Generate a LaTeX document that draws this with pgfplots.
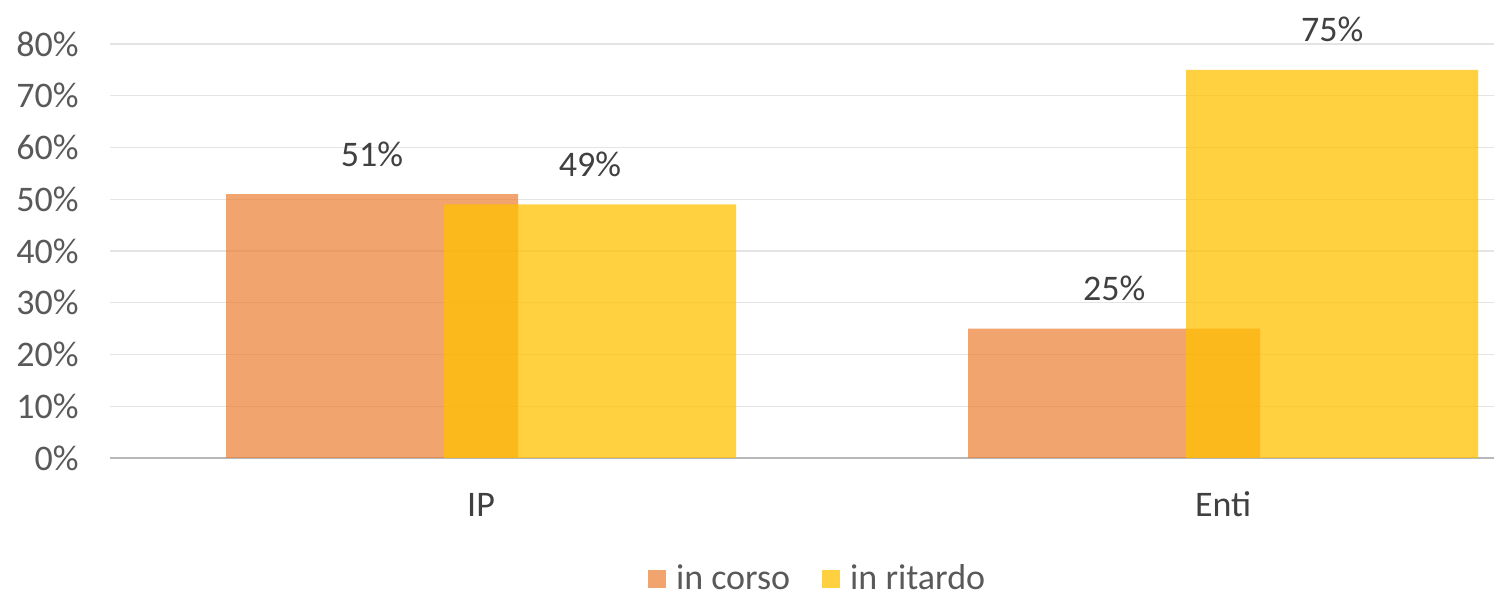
\documentclass[border=0pt]{standalone}
\usepackage{pgfplots}
\pgfplotsset{compat=1.18}
\usepackage{fontspec}
\setmainfont{Carlito}
\definecolor{corso}{HTML}{ED7D31}
\definecolor{ritardo}{HTML}{FFC000}
\definecolor{gridgrey}{HTML}{E4E4E4}
\definecolor{labgrey}{HTML}{595959}
\definecolor{txtgrey}{HTML}{404040}
\begin{document}
\begin{tikzpicture}
\path[use as bounding box] (-55pt,-70pt) rectangle (692pt,229pt);
\begin{axis}[
    at={(0,0)}, anchor=south west,
    scale only axis,
    width=692pt, height=207pt,
    ybar,
    bar width=0.3935,
    xmin=-0.5, xmax=1.365,
    ymin=0, ymax=80,
    enlargelimits=false,
    clip=false,
    axis line style={draw=none},
    major tick length=0pt,
    xtick={0,1},
    xticklabels={IP,Enti},
    ytick={0,10,...,80},
    ymajorgrids,
    grid style={gridgrey, line width=0.6pt},
    extra y ticks={0},
    extra y tick labels={},
    extra y tick style={grid style={color=black!28, line width=0.7pt}},
    /pgf/number format/assume math mode=true,
    yticklabel={\pgfmathprintnumber{\tick}\%},
    tick label style={font=\fontsize{18}{21}\selectfont, text=labgrey},
    yticklabel style={anchor=east, inner sep=0pt, xshift=-15.5pt},
    xticklabel style={anchor=base, inner sep=0pt, yshift=-29.5pt, text=txtgrey},
    point meta=y,
    nodes near coords={\pgfmathprintnumber{\pgfplotspointmeta}\%},
    every node near coord/.append style={anchor=base, inner sep=0pt, yshift=14pt,
        font=\fontsize{18}{21}\selectfont, text=txtgrey},
    legend style={at={(0.512,-0.292)}, anchor=center, draw=none, fill=none,
        legend columns=2, font=\fontsize{18}{21}\selectfont, text=labgrey,
        inner sep=0pt,
        /tikz/every odd column/.append style={column sep=3pt},
        /tikz/every even column/.append style={column sep=14pt}},
    legend image code/.code={\fill[#1] (0pt,-4.5pt) rectangle (9pt,4.5pt);},
]
\addplot[fill=corso, fill opacity=0.7, draw=none, bar shift=-0.1469,
    text opacity=1] coordinates {(0,51) (1,25)};
\addplot[fill=ritardo, fill opacity=0.75, draw=none, bar shift=0.1469,
    text opacity=1] coordinates {(0,49) (1,75)};
\legend{in corso, in ritardo}
\end{axis}
\end{tikzpicture}
\end{document}
